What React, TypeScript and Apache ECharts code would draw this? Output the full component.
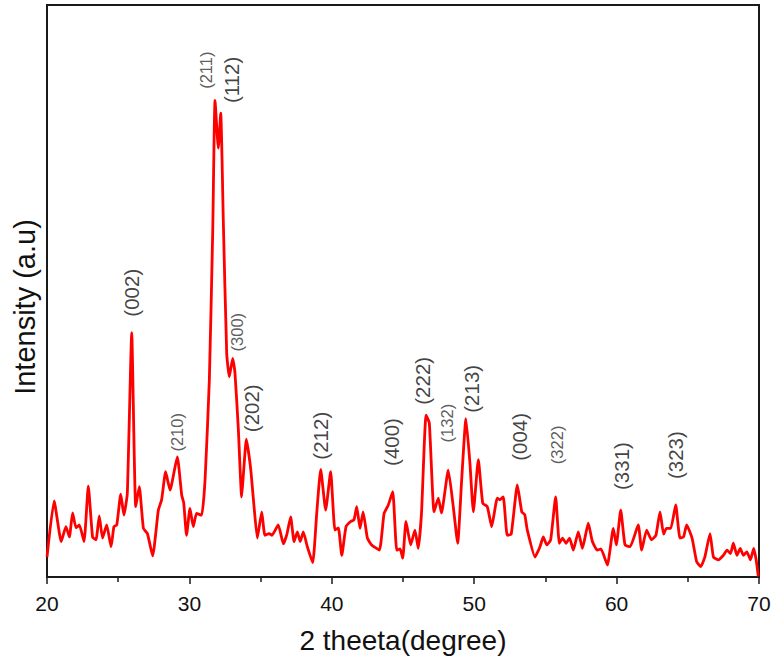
import React, { useEffect, useRef } from "react";
import * as echarts from "echarts";

const twoTheta: number[] = [
  20.0, 20.5, 21.0, 21.33, 21.57, 21.8, 22.04, 22.27, 22.6, 22.9, 23.2, 23.44, 23.67, 23.9, 24.19, 24.5, 24.7, 24.9,
  25.18, 25.4, 25.64, 25.95, 26.23, 26.48, 26.77, 27.05, 27.42, 27.82, 28.05, 28.33, 28.64, 29.15, 29.46, 29.6, 29.8,
  30.04, 30.27, 30.5, 30.86, 31.1, 31.4, 31.64, 31.8, 32.03, 32.2, 32.38, 32.62, 32.8, 33.04, 33.2, 33.44, 33.67, 33.8,
  34.0, 34.3, 34.54, 34.77, 35.08, 35.3, 35.6, 35.8, 36.24, 36.6, 36.85, 37.11, 37.35, 37.58, 37.78, 38.0, 38.28, 38.66,
  38.94, 39.22, 39.57, 39.92, 40.22, 40.46, 40.7, 41.0, 41.33, 41.56, 41.75, 41.98, 42.2, 42.5, 42.8, 43.34, 43.67,
  43.97, 44.28, 44.56, 44.8, 44.98, 45.21, 45.54, 45.84, 46.07, 46.3, 46.62, 46.85, 47.18, 47.48, 47.7, 48.18, 48.53,
  48.84, 49.12, 49.42, 49.7, 49.94, 50.29, 50.6, 50.92, 51.23, 51.62, 51.8, 52.04, 52.32, 52.6, 53.03, 53.34, 53.55,
  53.73, 54.27, 54.62, 54.85, 55.1, 55.37, 55.72, 55.98, 56.2, 56.45, 56.7, 56.96, 57.31, 57.6, 58.01, 58.3, 58.64,
  58.9, 59.35, 59.77, 59.98, 60.29, 60.59, 60.95, 61.52, 61.76, 62.11, 62.45, 62.76, 63.05, 63.3, 63.5, 63.8, 64.15,
  64.45, 64.7, 64.92, 65.3, 65.62, 65.9, 66.2, 66.56, 66.8, 67.15, 67.5, 67.75, 68.0, 68.2, 68.45, 68.68, 68.9, 69.15,
  69.4, 69.63, 69.8, 69.95,
];

const intensity: number[] = [
  3.5, 13.3, 6.2, 8.8, 7.0, 11.2, 8.6, 9.1, 6.2, 15.9, 7.0, 6.5, 10.7, 6.8, 9.1, 5.3, 8.8, 9.1,
  14.5, 10.8, 14.6, 42.7, 12.3, 15.8, 8.5, 7.6, 3.7, 11.7, 13.5, 18.4, 15.2, 21.0, 14.3, 13.0, 7.3,
  12.0, 8.8, 11.1, 10.8, 17.0, 34.4, 60.7, 83.3, 75.0, 81.1, 62.4, 39.1, 35.0, 38.2, 35.7, 25.7, 14.0, 18.2,
  24.1, 19.0, 12.3, 6.8, 11.4, 7.3, 7.6, 7.3, 9.1, 5.8, 7.5, 10.5, 6.2, 7.9, 6.2, 7.9, 5.3, 2.5,
  11.1, 18.8, 11.7, 18.4, 8.2, 8.6, 3.8, 8.8, 9.7, 10.0, 12.3, 8.5, 11.4, 6.8, 5.6, 4.7, 11.1,
  12.6, 14.9, 4.7, 4.9, 3.3, 9.7, 5.6, 8.2, 5.0, 11.2, 28.3, 26.9, 11.4, 13.8, 11.2, 18.7, 12.3,
  5.9, 17.0, 27.7, 19.9, 11.4, 20.5, 12.9, 12.3, 8.8, 13.8, 13.5, 14.0, 7.3, 7.5, 16.1, 11.4, 10.9,
  8.2, 3.5, 5.3, 7.0, 5.6, 6.5, 14.0, 5.9, 6.8, 5.9, 6.8, 4.7, 7.9, 5.0, 9.4, 6.2, 4.7,
  4.9, 2.1, 8.5, 5.6, 11.7, 5.6, 5.3, 9.1, 4.7, 8.2, 6.5, 7.3, 11.4, 7.5, 8.5, 8.5, 12.6,
  6.8, 7.0, 9.1, 6.8, 2.7, 1.8, 3.5, 7.6, 3.5, 3.0, 3.8, 4.7, 4.1, 5.9, 3.8, 5.0, 3.8, 4.4,
  3.0, 5.0, 3.0, 0.1,
];

const peakNames: string[] = [
  "(211)", "(112)", "(002)", "(210)", "(300)", "(202)", "(212)", "(400)",
  "(222)", "(132)", "(213)", "(004)", "(322)", "(331)", "(323)",
];
const peakLabelX: number[] = [
  31.17, 32.99, 25.9, 29.13, 33.34, 34.33, 39.24, 44.16, 46.4, 48.09, 49.78, 53.15, 55.81, 60.31, 64.17,
];
const peakLabelY: number[] = [
  88.6, 86.9, 49.7, 25.3, 42.8, 29.5, 24.7, 23.6, 34.3, 26.9, 32.9, 24.5, 23.1, 19.4, 21.3,
];
const peakSmall: boolean[] = [
  true, false, false, true, true, false, false, false, false, true, false, false, true, false, false,
];

const xTicks = { min: 20, max: 70, interval: 10 };

export default function App() {
  const ref = useRef<HTMLDivElement>(null);

  useEffect(() => {
    if (!ref.current) return;
    const chart = echarts.init(ref.current, undefined, { renderer: "svg" });
    const font = "'Liberation Sans', Arial, sans-serif";

    const lineData = twoTheta.map((x, i) => [x, intensity[i]]);
    const labelData = peakNames.map((n, i) => ({
      name: n,
      value: [peakLabelX[i], peakLabelY[i]],
      label: {
        fontSize: peakSmall[i] ? 16.5 : 20.5,
        color: peakSmall[i] ? "#333" : "#111",
      },
    }));

    chart.setOption({
      animation: false,
      backgroundColor: "#fff",
      grid: {
        left: 47,
        right: 15,
        top: 5,
        bottom: 85,
        show: true,
        borderColor: "#1a1a1a",
        borderWidth: 2,
        backgroundColor: "transparent",
      },
      xAxis: {
        type: "value",
        min: xTicks.min,
        max: xTicks.max,
        interval: xTicks.interval,
        name: "2 theeta(degree)",
        nameLocation: "middle",
        nameGap: 49,
        nameTextStyle: { fontFamily: font, fontSize: 28, color: "#111" },
        axisLine: { show: true, lineStyle: { color: "#1a1a1a", width: 2 } },
        axisTick: { show: true, length: 7, lineStyle: { color: "#1a1a1a", width: 1.5 } },
        minorTick: { show: true, splitNumber: 2, length: 5, lineStyle: { color: "#1a1a1a", width: 1.5 } },
        axisLabel: { fontFamily: font, fontSize: 21, color: "#111", margin: 16 },
        splitLine: { show: false },
      },
      yAxis: {
        type: "value",
        min: 0,
        max: 100,
        axisLine: { show: true, lineStyle: { color: "#1a1a1a", width: 2 } },
        axisTick: { show: false },
        axisLabel: { show: false },
        splitLine: { show: false },
      },
      graphic: [
        {
          type: "text",
          x: 25,
          y: 307,
          rotation: Math.PI / 2,
          style: {
            text: "Intensity (a.u)",
            fontFamily: font,
            fontSize: 29,
            fill: "#111",
            align: "center",
            verticalAlign: "middle",
          },
        },
      ],
      series: [
        {
          type: "line",
          data: lineData,
          showSymbol: false,
          symbol: "none",
          smooth: 0.15,
          lineStyle: { color: "#ff0000", width: 2.8 },
          z: 3,
        },
        {
          type: "scatter",
          data: labelData,
          symbolSize: 2,
          itemStyle: { color: "rgba(0,0,0,0)" },
          silent: true,
          labelLayout: { hideOverlap: false },
          label: {
            show: true,
            position: "inside",
            rotate: 90,
            formatter: "{b}",
            fontFamily: font,
            align: "center",
            verticalAlign: "middle",
          },
          z: 4,
        },
      ],
    });

    return () => chart.dispose();
  }, []);

  return (
    <div
      ref={ref}
      style={{ position: "fixed", left: 0, top: 0, width: 774, height: 662, background: "#fff" }}
    />
  );
}
